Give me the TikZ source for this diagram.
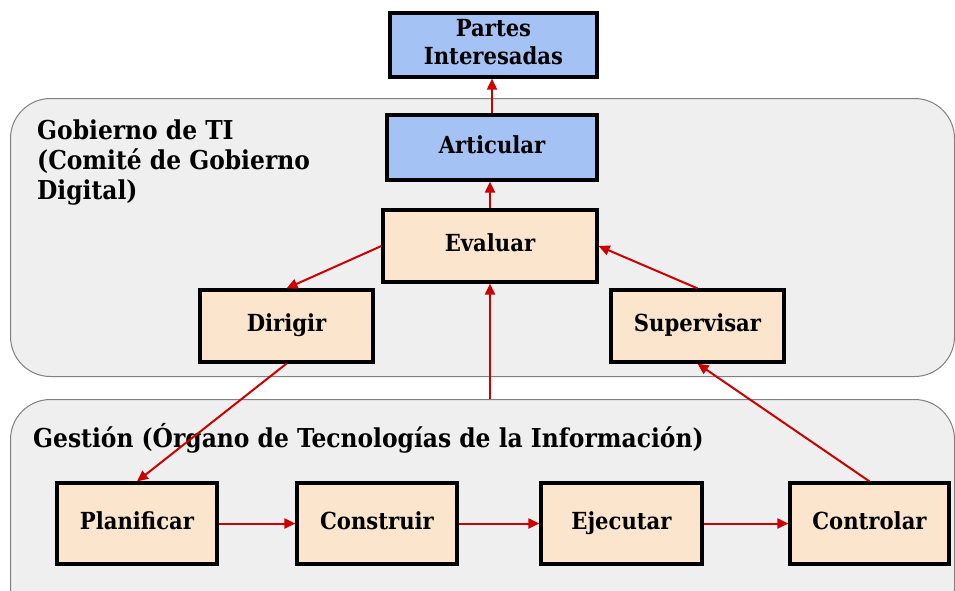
\documentclass[tikz,border=0pt]{standalone}
\usepackage{fontspec}
\setmainfont{DejaVu Serif Condensed}
\usetikzlibrary{arrows.meta}
\definecolor{azul}{HTML}{A4C2F4}
\definecolor{crema}{HTML}{FCE5CD}
\definecolor{fondo}{HTML}{EFEFEF}
\definecolor{borde}{HTML}{808080}
\definecolor{rojo}{HTML}{CC0000}
\newcommand{\alto}{\rule[-6pt]{0pt}{23pt}}
\tikzset{
  panel/.style={draw=borde, fill=fondo, line width=1pt, rounded corners=40pt, anchor=north west},
  caja/.style={draw=black, line width=3.2pt, align=center, inner sep=0pt,
    font=\fontsize{23.5}{28}\selectfont\bfseries, execute at begin node=\alto},
  cajaazul/.style={caja, fill=azul},
  cajacrema/.style={caja, fill=crema},
  titulo/.style={anchor=north west, align=left, inner sep=0pt,
    font=\fontsize{26}{30}\selectfont\bfseries},
  flecha/.style={draw=rojo, line width=2pt, -{Triangle[length=11pt,width=10pt]}, fill=rojo}
}
\begin{document}
\begin{tikzpicture}[x=1pt, y=-1pt]
  \useasboundingbox (0,0) rectangle (955,590);
  \clip (0,0) rectangle (955,590);
  \fill[white] (0,0) rectangle (955,590);

  % grupos
  \node[panel, minimum width=944pt, minimum height=278pt] (gobierno) at (10,98) {};
  \node[panel, minimum width=944pt, minimum height=230pt] (gestion) at (10,399) {};
  \node[titulo] (tgobierno) at (37,120) {Gobierno de TI\\(Comité de Gobierno\\Digital)};
  \node[titulo] (tgestion) at (33,423) {Gestión (Órgano de Tecnologías de la Información)};

  % cajas
  \node[cajaazul, minimum width=207pt, minimum height=64pt] (partes) at (493.5,45) {Partes\\Interesadas\rule[-3pt]{0pt}{0pt}};
  \node[cajaazul, minimum width=210pt, minimum height=65pt] (articular) at (492,147.5) {Articular};
  \node[cajacrema, minimum width=214pt, minimum height=72pt] (evaluar) at (490,246) {Evaluar};
  \node[cajacrema, minimum width=173pt, minimum height=72pt] (dirigir) at (286.5,326) {Dirigir};
  \node[cajacrema, minimum width=173pt, minimum height=72pt] (supervisar) at (697.5,326) {Supervisar};

  \node[cajacrema, minimum width=160pt, minimum height=81pt] (planificar) at (137,523.5) {Planificar};
  \node[cajacrema, minimum width=160pt, minimum height=81pt] (construir) at (377,523.5) {Construir};
  \node[cajacrema, minimum width=161pt, minimum height=81pt] (ejecutar) at (621.5,523.5) {Ejecutar};
  \node[cajacrema, minimum width=159pt, minimum height=81pt] (controlar) at (869.5,523.5) {Controlar};

  % flechas
  \draw[flecha] (articular.north) -- (articular.north |- partes.south);
  \draw[flecha] (evaluar.north) -- (evaluar.north |- articular.south);
  \draw[flecha] (evaluar.west) -- (dirigir.north);
  \draw[flecha] (supervisar.north) -- (evaluar.east);
  \draw[flecha] (gestion.north -| evaluar.south) -- (evaluar.south);
  \draw[flecha] (dirigir.south) -- (planificar.north);
  \draw[flecha] (controlar.north) -- (supervisar.south);
  \draw[flecha] (planificar) -- (construir);
  \draw[flecha] (construir) -- (ejecutar);
  \draw[flecha] (ejecutar) -- (controlar);
\end{tikzpicture}
\end{document}
